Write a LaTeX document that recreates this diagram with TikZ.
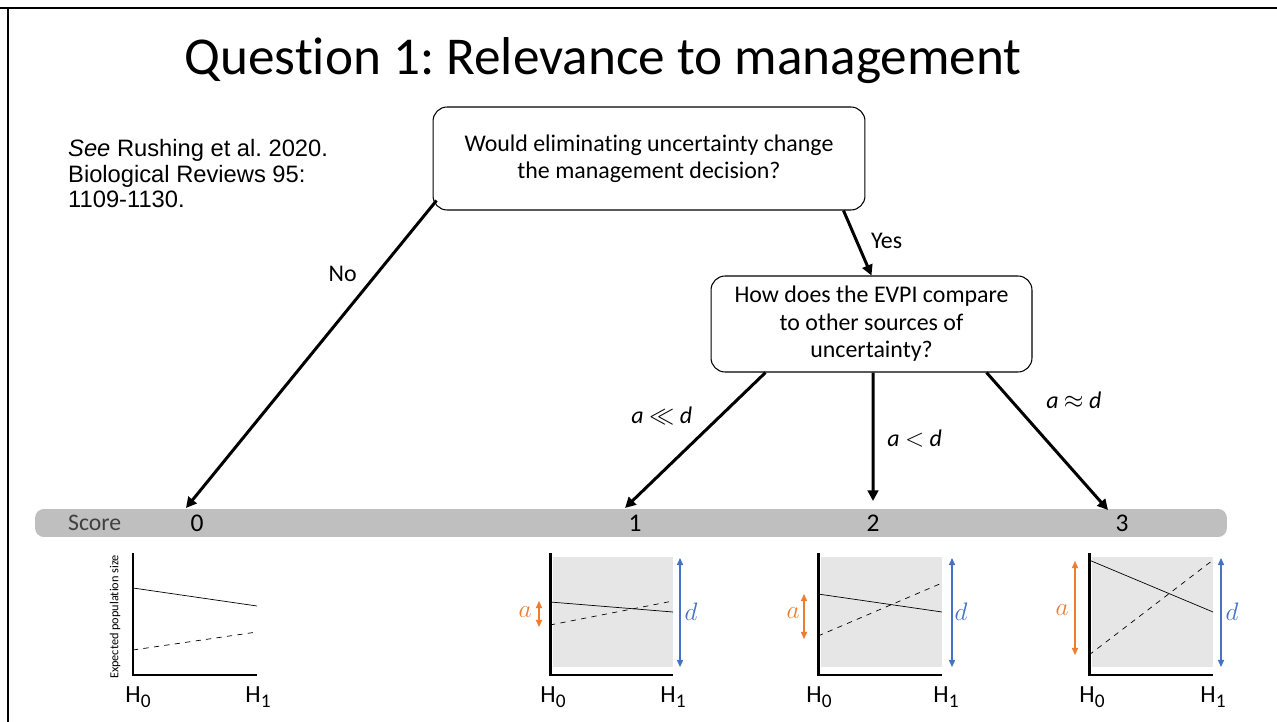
\documentclass[tikz,border=0pt]{standalone}
\usepackage{fontspec}
\setmainfont{Carlito}[Ligatures=NoCommon]
\newfontfamily\arialfont{Liberation Sans}
\usepackage{amsmath}
\usetikzlibrary{positioning, arrows.meta, calc}
\definecolor{slide_orange}{HTML}{ED7D31}
\definecolor{slide_blue}{HTML}{4472C4}
\definecolor{slide_bar}{HTML}{BFBFBF}
\definecolor{slide_shade}{HTML}{E6E6E6}
\definecolor{slide_text}{HTML}{404040}
\tikzstyle{arrow} = [line width=1.7pt,-{Triangle[length=6pt,width=6pt]}]
\tikzstyle{range_a} = [slide_orange, line width=0.6pt, {Triangle[length=4pt,width=3.5pt]}-{Triangle[length=4pt,width=3.5pt]}]
\tikzstyle{range_d} = [slide_blue, line width=0.6pt, {Triangle[length=4pt,width=3.5pt]}-{Triangle[length=4pt,width=3.5pt]}]
\tikzstyle{question} = [draw, rounded corners=8pt, align=center, line width=0.6pt, font=\fontsize{13.6}{15.6}\selectfont]
\tikzstyle{branch} = [font=\fontsize{13.6}{15.6}\selectfont]
\tikzstyle{axis} = [line width=1.7pt]
\tikzstyle{hlabel} = [font=\fontsize{14}{16}\selectfont]
\tikzstyle{rlabel} = [font=\fontsize{14}{16}\selectfont]
\newcommand{\hyp}[1]{H\raisebox{-0.4ex}{\fontsize{11}{12}\selectfont #1}}
\frenchspacing

\begin{document}
\begin{tikzpicture}[x=0.02cm, y=-0.02cm]
        \useasboundingbox (0,0) rectangle (1277,722);
        % frame
        \draw[line width=1.3pt] (0,8) -- (8,8) -- (8,722);
        \draw[line width=1.3pt] (8,8) -- (1277,8);

        \node (title) at (603,61) {\fontsize{30.3}{36}\selectfont Question 1: Relevance to management};
        \node (ref) [anchor=north west, align=left, font=\arialfont\fontsize{13.5}{14.6}\selectfont] at (62,133) {\textit{See} Rushing et al. 2020.\\Biological Reviews 95:\\1109-1130.};

        \node (box1) [question, minimum width=8.64cm, minimum height=2.06cm] at (649,158.5) {Would eliminating uncertainty change\\the management decision?};
        \node (box2) [question, minimum width=6.42cm, minimum height=1.92cm] at (871.5,324) {How does the EVPI compare\\to other sources of\\uncertainty?};

        % score bar
        \node (score_bar) [fill=slide_bar, rounded corners=5pt, minimum width=23.84cm, minimum height=0.56cm, inner sep=0pt] at (631,523) {};
        \node (score) [anchor=west, text=slide_text, font=\fontsize{13.5}{16}\selectfont] at (62,523) {Score};
        \node (n0) [font=\fontsize{14.5}{16}\selectfont] at (197,523) {0};
        \node (n1) [font=\fontsize{14.5}{16}\selectfont] at (635,523) {1};
        \node (n2) [font=\fontsize{14.5}{16}\selectfont] at (873,523) {2};
        \node (n3) [font=\fontsize{14.5}{16}\selectfont] at (1122,523) {3};
        \coordinate (t0) at (186,508);
        \coordinate (t1) at (625,508);
        \coordinate (t2) at (873,501);
        \coordinate (t3) at (1108,510);

        \draw [arrow] ($(box1.south west)+(4,-10)$) -- node[branch, pos=0.24, left=7pt] {No} (t0);
        \draw [arrow] ($(box1.south east)+(-22,0)$) -- node[branch, pos=0.47, right=4pt] {Yes} (box2.north);
        \draw [arrow] ($(box2.south)+(-106,0)$) -- node[branch, pos=0.32, left=12pt] {\itshape a $\ll$ d} (t1);
        \draw [arrow] ($(box2.south)+(1.5,0)$) -- node[branch, pos=0.51, right=4pt] {\itshape a $<$ d} (t2);
        \draw [arrow] ($(box2.south)+(115,0)$) -- node[branch, pos=0.2, right=16pt] {\itshape a $\approx$ d} (t3);

        % score 0
        \begin{scope}[shift={(133,675)}]
            \draw (0,-87) -- (124,-69);
            \draw[dashed] (0,-25) -- (124,-43);
            \draw[axis] (0,-122) -- (0,0) -- (124,0);
            \node (ylab0) [rotate=90, font=\fontsize{7}{8}\selectfont] at (-18,-58) {Expected population size};
            \node (h00) [hlabel] at (5,22) {\hyp{0}};
            \node (h10) [hlabel] at (125,22) {\hyp{1}};
        \end{scope}

        % score 1
        \begin{scope}[shift={(550,675)}]
            \fill[slide_shade] (3,-118) rectangle (123,-8);
            \draw (0,-73) -- (123,-63);
            \draw[dashed] (0,-50) -- (123,-74);
            \draw[axis] (0,-122) -- (0,0) -- (123,0);
            \draw[range_a] (-11,-74) -- (-11,-48);
            \node (a1) [rlabel, text=slide_orange] at (-25,-63) {$a$};
            \draw[range_d] (130,-117) -- (130,-8);
            \node (d1) [rlabel, text=slide_blue] at (141,-63) {$d$};
            \node (h01) [hlabel] at (3,22) {\hyp{0}};
            \node (h11) [hlabel] at (123,22) {\hyp{1}};
        \end{scope}

        % score 2
        \begin{scope}[shift={(818,675)}]
            \fill[slide_shade] (3,-118) rectangle (124,-8);
            \draw (0,-81) -- (124,-63);
            \draw[dashed] (0,-39) -- (124,-92);
            \draw[axis] (0,-122) -- (0,0) -- (124,0);
            \draw[range_a] (-14,-81) -- (-14,-36);
            \node (a2) [rlabel, text=slide_orange] at (-25,-62) {$a$};
            \draw[range_d] (134,-117) -- (134,-8);
            \node (d2) [rlabel, text=slide_blue] at (143,-63) {$d$};
            \node (h02) [hlabel] at (1,22) {\hyp{0}};
            \node (h12) [hlabel] at (128,22) {\hyp{1}};
        \end{scope}

        % score 3
        \begin{scope}[shift={(1089,675)}]
            \fill[slide_shade] (3,-118) rectangle (124,-8);
            \draw (0,-115) -- (124,-63);
            \draw[dashed] (0,-20) -- (124,-115);
            \draw[axis] (0,-122) -- (0,0) -- (124,0);
            \draw[range_a] (-14,-114) -- (-14,-20);
            \node (a3) [rlabel, text=slide_orange] at (-27,-65) {$a$};
            \draw[range_d] (132,-117) -- (132,-8);
            \node (d3) [rlabel, text=slide_blue] at (143,-63) {$d$};
            \node (h03) [hlabel] at (3,22) {\hyp{0}};
            \node (h13) [hlabel] at (124,22) {\hyp{1}};
        \end{scope}
    \end{tikzpicture}
\end{document}
